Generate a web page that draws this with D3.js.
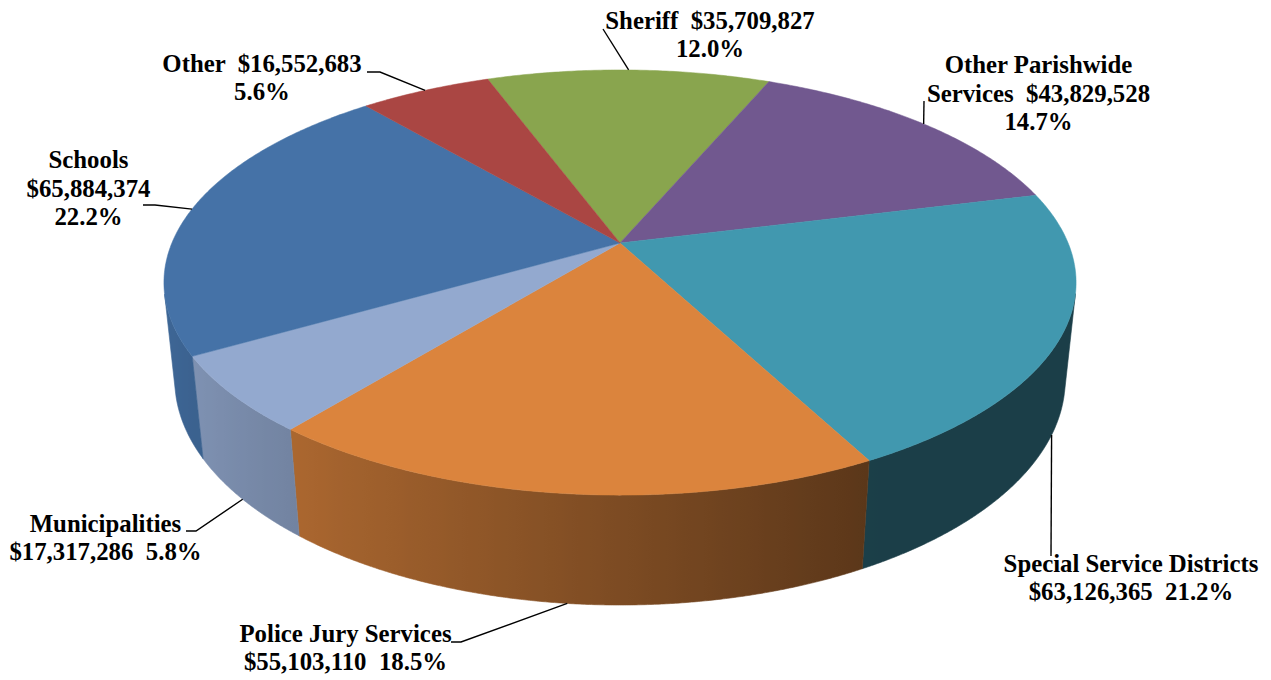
<!DOCTYPE html>
<html>
<head>
<meta charset="utf-8">
<script src="https://cdn.jsdelivr.net/npm/d3@7"></script>
<style>
  html, body { margin: 0; padding: 0; background: #ffffff; }
  svg { display: block; }
</style>
</head>
<body>
<svg id="chart" width="1271" height="680"></svg>
<script>
// ---- data -------------------------------------------------------------
const categories = [
  "Sheriff",
  "Other Parishwide Services",
  "Special Service Districts",
  "Police Jury Services",
  "Municipalities",
  "Schools",
  "Other"
];
const amounts = [35709827, 43829528, 63126365, 55103110, 17317286, 65884374, 16552683];
const percentLabels = ["12.0%", "14.7%", "21.2%", "18.5%", "5.8%", "22.2%", "5.6%"];
const sliceColors = ["#89A54E", "#71588F", "#4198AF", "#DB843D", "#93A9CF", "#4572A7", "#AA4643"];

// ---- 3D pie geometry --------------------------------------------------
const W = 1271, H = 680;
const firstSliceAngle = -20.3 * Math.PI / 180;   // clockwise from 12 o'clock
const cx = 620, cy = 243;                        // projected pie centre
const focal = 2142, camDist = 4.78;              // perspective camera (radius units)
const tilt = Math.asin(0.458);                   // elevation of the camera
const thickness = 0.246;                         // pie height (radius units)

function project(theta, level) {
  // level 0 = top face, 1 = bottom rim
  const X = Math.sin(theta), Z = -Math.cos(theta), Y = -thickness * level;
  const depth = camDist - Y * Math.sin(tilt) - Z * Math.cos(tilt);
  return [cx + focal * X / depth, cy + focal * (Z * Math.sin(tilt) - Y * Math.cos(tilt)) / depth];
}

// is the outer wall at angle theta facing the viewer?
function wallVisible(theta) {
  const e = 1e-3;
  const p1 = project(theta - e, 0), p2 = project(theta + e, 0), q1 = project(theta - e, 1);
  return (p2[0] - p1[0]) * (q1[1] - p1[1]) - (p2[1] - p1[1]) * (q1[0] - p1[0]) < 0;
}

// wall shading: lit from the left, darker towards the right
function sideShade(theta) {
  return Math.max(0.41, 0.57 + 0.33 * Math.cos(theta - 1.5 * Math.PI));
}

const pie = d3.pie()
  .sort(null)
  .value(d => d)
  .startAngle(firstSliceAngle)
  .endAngle(firstSliceAngle + 2 * Math.PI);
const arcs = pie(amounts);

const svg = d3.select("#chart");
const defs = svg.append("defs");
svg.append("rect").attr("width", W).attr("height", H).attr("fill", "#ffffff");

const line = d3.line();
const gSides = svg.append("g").attr("class", "sides");
const gTops = svg.append("g").attr("class", "tops");
const gLeaders = svg.append("g").attr("class", "leaders");
const gLabels = svg.append("g").attr("class", "labels");

// outer wall of each slice: one path with a horizontal shading gradient
const sampleStep = 0.25 * Math.PI / 180;
arcs.forEach((a, i) => {
  const base = d3.rgb(sliceColors[i]);
  const n = Math.max(2, Math.ceil((a.endAngle - a.startAngle) / sampleStep));
  const thetas = d3.range(n + 1).map(k => a.startAngle + (a.endAngle - a.startAngle) * k / n)
    .filter(wallVisible);
  if (thetas.length < 2) return;
  const top = thetas.map(t => project(t, 0));
  const bottom = thetas.map(t => project(t, 1)).reverse();
  const midX = t => (project(t, 0)[0] + project(t, 1)[0]) / 2;
  const x1 = midX(thetas[0]), x2 = midX(thetas[thetas.length - 1]);
  const id = "wall-" + i;
  const grad = defs.append("linearGradient")
    .attr("id", id)
    .attr("gradientUnits", "userSpaceOnUse")
    .attr("x1", x1).attr("y1", 0).attr("x2", x2).attr("y2", 0);
  thetas.forEach((t, k) => {
    if (k % 4 !== 0 && k !== thetas.length - 1) return;
    const s = sideShade(t);
    grad.append("stop")
      .attr("offset", Math.min(1, Math.max(0, (midX(t) - x1) / (x2 - x1))))
      .attr("stop-color", d3.rgb(base.r * s, base.g * s, base.b * s).formatHex());
  });
  gSides.append("path")
    .attr("d", line(top.concat(bottom)) + "Z")
    .attr("fill", `url(#${id})`)
    .attr("stroke", `url(#${id})`)
    .attr("stroke-width", 0.6)
    .attr("stroke-linejoin", "round");
});

// top faces
arcs.forEach((a, i) => {
  const pts = [[cx, cy]];
  const n = Math.max(2, Math.ceil((a.endAngle - a.startAngle) / (0.5 * Math.PI / 180)));
  for (let k = 0; k <= n; k++) {
    pts.push(project(a.startAngle + (a.endAngle - a.startAngle) * k / n, 0));
  }
  gTops.append("path")
    .attr("d", line(pts) + "Z")
    .attr("fill", sliceColors[i])
    .attr("stroke", sliceColors[i])
    .attr("stroke-width", 0.5)
    .attr("stroke-linejoin", "round");
});

// ---- labels -----------------------------------------------------------
const fmtAmount = d3.format("$,");
// text lines for each slice, label anchor (centre x, first baseline) and leader start
const labelLayout = [
  { lines: i => [categories[i] + "  " + fmtAmount(amounts[i]), percentLabels[i]],
    x: 710, y: 28.5, leader: [[603, 29]] },
  { lines: i => ["Other Parishwide", "Services  " + fmtAmount(amounts[i]), percentLabels[i]],
    x: 1038.5, y: 73.3, leader: [[924, 101]] },
  { lines: i => [categories[i], fmtAmount(amounts[i]) + "  " + percentLabels[i]],
    x: 1131, y: 571.7, leader: [[1051, 556]] },
  { lines: i => [categories[i], fmtAmount(amounts[i]) + "  " + percentLabels[i]],
    x: 345.5, y: 641.7, leader: [[451, 642], [461, 642]] },
  { lines: i => [categories[i], fmtAmount(amounts[i]) + "  " + percentLabels[i]],
    x: 105.5, y: 531.7, leader: [[186, 531], [196, 531]] },
  { lines: i => [categories[i], fmtAmount(amounts[i]), percentLabels[i]],
    x: 88.5, y: 168.3, leader: [[143, 205], [155, 205]] },
  { lines: i => [categories[i] + "  " + fmtAmount(amounts[i]), percentLabels[i]],
    x: 262, y: 71.7, leader: [[367, 72], [380, 72]] }
];

const lineGap = 28.3;
arcs.forEach((a, i) => {
  const L = labelLayout[i];
  const mid = (a.startAngle + a.endAngle) / 2;
  // leader ends on the top rim for back slices, on the lower rim for front ones
  const end = project(mid, -Math.cos(mid) > 0 ? 1 : 0);
  gLeaders.append("path")
    .attr("d", line(L.leader.concat([end])))
    .attr("fill", "none")
    .attr("stroke", "#000")
    .attr("stroke-width", 1.4);

  const t = gLabels.append("text")
    .attr("text-anchor", "middle")
    .attr("font-family", "'Liberation Serif', 'Times New Roman', serif")
    .attr("font-weight", "bold")
    .attr("font-size", 24.8)
    .attr("fill", "#000")
    .style("white-space", "pre");
  L.lines(i).forEach((s, j) => {
    t.append("tspan").attr("x", L.x).attr("y", L.y + j * lineGap).text(s);
  });
});
</script>
</body>
</html>
